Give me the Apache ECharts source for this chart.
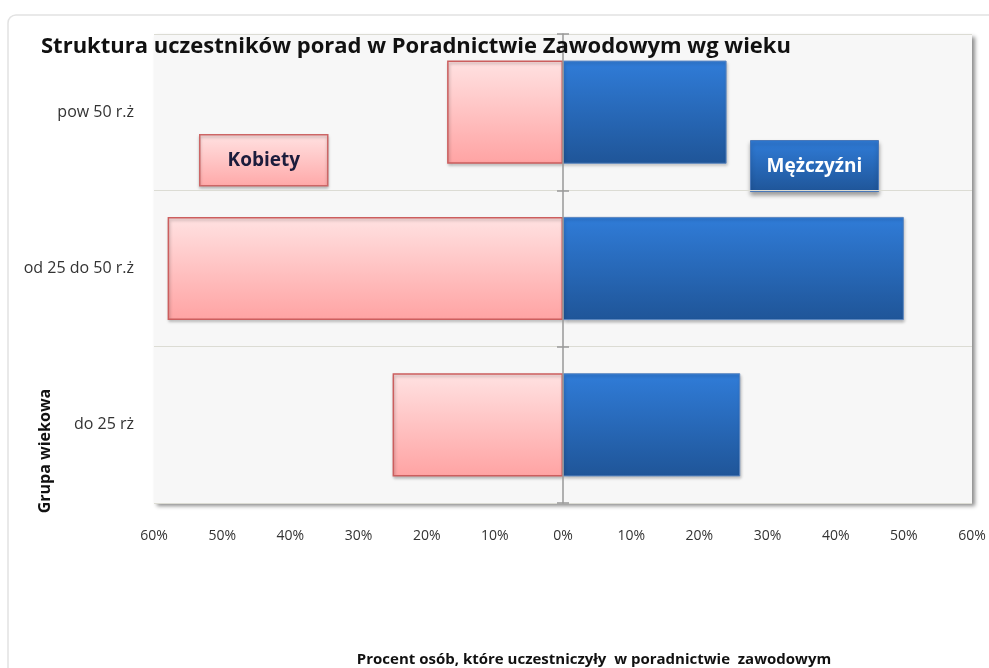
<!DOCTYPE html>
<html>
<head>
<meta charset="utf-8">
<script src="https://cdn.jsdelivr.net/npm/echarts@6/dist/echarts.min.js"></script>
<style>
  html, body { margin: 0; padding: 0; background: #fff; }
  #chart { width: 989px; height: 668px; }
</style>
</head>
<body>
<div id="chart"></div>
<script>
// dane
const categories = ['do 25 rż', 'od 25 do 50 r.ż', 'pow 50 r.ż']
const kobiety = [25, 58, 17]     // %
const mezczyzni = [26, 50, 24]   // %

const FONT = 'Open Sans'

const chart = echarts.init(document.getElementById('chart'), null, { renderer: 'canvas' })

const pinkGrad = new echarts.graphic.LinearGradient(0, 0, 0, 1, [
  { offset: 0, color: '#ffe2e2' },
  { offset: 1, color: '#ffa3a3' }
])
const blueGrad = new echarts.graphic.LinearGradient(0, 0, 0, 1, [
  { offset: 0, color: '#307cd8' },
  { offset: 1, color: '#1f5598' }
])

// oś przy zerze z krzyżującymi się znacznikami
const zeroAxis = (inside) => ({
  type: 'category',
  data: categories,
  position: 'left',
  z: 5,
  axisLine: {
    show: inside, onZero: true, onZeroAxisIndex: 0,
    lineStyle: { color: '#999', width: 1.5 }
  },
  axisTick: { show: true, inside: inside, length: 6, lineStyle: { color: '#999', width: 1.5 } },
  axisLabel: { show: false },
  splitLine: { show: false }
})

chart.setOption({
  backgroundColor: '#fff',
  animation: false,
  title: {
    text: 'Struktura uczestników porad w Poradnictwie Zawodowym wg wieku',
    left: 36,
    top: 31,
    textStyle: { fontFamily: FONT, fontSize: 22, fontWeight: 'bold', color: '#111' }
  },
  grid: {
    left: 154, right: 17, top: 34, bottom: 165,
    show: true,
    backgroundColor: '#f7f7f7',
    borderWidth: 0,
    shadowColor: 'rgba(0,0,0,0.45)',
    shadowBlur: 4,
    shadowOffsetX: 3,
    shadowOffsetY: 3
  },
  xAxis: {
    type: 'value',
    min: -60,
    max: 60,
    interval: 10,
    axisLine: { show: false },
    axisTick: { show: false },
    splitLine: { show: false },
    axisLabel: {
      margin: 26,
      fontFamily: FONT,
      fontSize: 14,
      color: '#333',
      formatter: v => Math.abs(v) + '%'
    }
  },
  yAxis: [
    {
      type: 'category',
      data: categories,
      axisLine: { show: false, onZero: false },
      axisTick: { show: false },
      splitLine: { show: true, lineStyle: { color: '#dcdcd4', width: 1 } },
      axisLabel: { margin: 20, fontFamily: FONT, fontSize: 16, color: '#333' }
    },
    zeroAxis(true),
    zeroAxis(false)
  ],
  series: [
    {
      name: 'Kobiety',
      type: 'bar',
      data: kobiety.map(v => -v),
      barWidth: '66%',
      barGap: '-100%',
      z: 1,
      itemStyle: {
        color: pinkGrad,
        borderColor: '#cc5e5e',
        borderWidth: 1.5,
        shadowColor: 'rgba(0,0,0,0.25)',
        shadowBlur: 3,
        shadowOffsetX: 1,
        shadowOffsetY: 2
      }
    },
    {
      name: 'Mężczyźni',
      type: 'bar',
      data: mezczyzni,
      barWidth: '66%',
      barGap: '-100%',
      z: 1,
      itemStyle: {
        color: blueGrad,
        borderColor: '#5b86c0',
        borderWidth: 1,
        shadowColor: 'rgba(0,0,0,0.25)',
        shadowBlur: 3,
        shadowOffsetX: 1,
        shadowOffsetY: 2
      }
    }
  ],
  graphic: [
    // ramka wykresu
    {
      type: 'rect', z: -10,
      shape: { x: 8, y: 15, width: 1020, height: 700, r: 8 },
      style: { fill: 'none', stroke: '#e2e2e2', lineWidth: 1.5 }
    },
    // legenda - Kobiety
    {
      type: 'group', left: 199, top: 134, z: 10,
      children: [
        {
          type: 'rect',
          shape: { width: 128, height: 51 },
          style: {
            fill: new echarts.graphic.LinearGradient(0, 0, 0, 1, [
              { offset: 0, color: '#ffe2e2' },
              { offset: 1, color: '#ffa8a8' }
            ]),
            stroke: '#cc6666', lineWidth: 1.5,
            shadowColor: 'rgba(0,0,0,0.25)', shadowBlur: 3, shadowOffsetY: 2
          }
        },
        {
          type: 'text', x: 64, y: 26,
          style: {
            text: 'Kobiety', align: 'center', verticalAlign: 'middle',
            fontFamily: FONT, fontSize: 19, fontWeight: 'bold', fill: '#1c1c3c'
          }
        }
      ]
    },
    // legenda - Mężczyźni
    {
      type: 'group', left: 750, top: 140, z: 10,
      children: [
        {
          type: 'rect',
          shape: { width: 128, height: 51 },
          style: {
            fill: new echarts.graphic.LinearGradient(0, 0, 0, 1, [
              { offset: 0, color: '#307cd8' },
              { offset: 1, color: '#1f5598' }
            ]),
            stroke: '#4a78b8', lineWidth: 1,
            shadowColor: 'rgba(0,0,0,0.35)', shadowBlur: 4, shadowOffsetY: 3
          }
        },
        {
          type: 'text', x: 64, y: 26,
          style: {
            text: 'Mężczyźni', align: 'center', verticalAlign: 'middle',
            fontFamily: FONT, fontSize: 19, fontWeight: 'bold', fill: '#ffffff'
          }
        }
      ]
    },
    // nazwa osi Y
    {
      type: 'text', x: 45, y: 451, rotation: Math.PI / 2,
      style: {
        text: 'Grupa wiekowa', align: 'center', verticalAlign: 'middle',
        fontFamily: FONT, fontSize: 16, fontWeight: 'bold', fill: '#111'
      }
    },
    // nazwa osi X
    {
      type: 'text', x: 594, y: 660,
      style: {
        text: 'Procent osób, które uczestniczyły  w poradnictwie  zawodowym',
        align: 'center', verticalAlign: 'middle',
        fontFamily: FONT, fontSize: 15, fontWeight: 'bold', fill: '#111'
      }
    }
  ]
})

window.addEventListener('resize', () => chart.resize())
</script>
</body>
</html>
